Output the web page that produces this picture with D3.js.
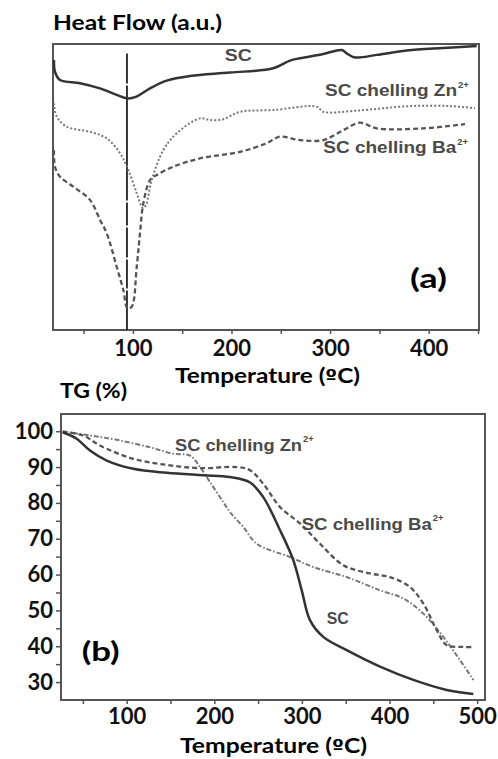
<!DOCTYPE html>
<html>
<head>
<meta charset="utf-8">
<script src="https://cdn.jsdelivr.net/npm/d3@7"></script>
<style>
  body { margin: 0; background: #fff; }
  svg text { font-family: Lato, "Open Sans", sans-serif; font-weight: bold; }
  .curveLabel { font-family: "Liberation Sans", Arial, sans-serif !important; fill: #4a4a4a; }
</style>
</head>
<body>
<div id="chart"></div>
<script>
// (a) DSC heat flow, arbitrary units, [temperature ºC, value]
const dscSC = [[20,94.4],[21,90.3],[26.1,87.4],[46.4,86.3],[66.7,84.5],[83.6,82.2],[94.4,81.0],[102.2,81.4],
  [117.4,84.5],[134.3,87.2],[158,88.8],[198.5,90.0],[242.4,91.5],[259.3,94.2],[269.5,95.0],[293.1,96.5],
  [311.8,97.9],[316.9,96.7],[325.3,95.3],[347.3,96.2],[377.7,97.7],[414.8,98.6],[448.7,99.3]]
const dscZn = [[20,79.3],[22.8,74.6],[32.9,71.1],[56.5,69.3],[73.5,67.0],[87,61.8],[95.4,55.9],[103.9,47.8],
  [109,43.1],[110.6,42.6],[113.3,43.7],[119.1,52.4],[130.9,62.9],[144.5,68.8],[168.1,74.0],[178.2,73.4],
  [191.7,73.7],[208.7,76.3],[242.4,76.9],[286.4,78.1],[293.1,76.3],[327,76.7],[381.1,78.3],[421.6,78.3],[447,77.5]]
const dscBa = [[20,62.9],[21,57.1],[26.1,53.6],[39.6,50.1],[56.5,45.5],[66.7,38.5],[73.5,33.8],[83.6,22.1],
  [90.3,14.0],[94.4,7.6],[98.8,8.1],[103.9,22.1],[107.2,33.8],[110.6,44.3],[117.4,52.4],[124.2,54.2],
  [141,57.1],[168.1,60.0],[208.7,62.3],[235.7,65.3],[249.2,67.6],[269.5,66.4],[293.1,66.4],[313.4,69.9],
  [330.3,72.5],[347.3,70.5],[394.6,70.5],[436.8,72.0]]
const dscMarker = [[94,96.7],[94,0]]

// (b) TG mass, %, [temperature ºC, value]
const tgSC = [[26.9,99.7],[42.9,97.9],[58.1,94.6],[77.2,91.8],[107.5,89.5],[145.7,88.4],[187.4,87.7],[217.9,87.2],
  [240.8,85.7],[255.9,81.6],[275.2,72.3],[290.2,64.0],[299.8,55.6],[309.2,47.3],[324.4,42.6],[351.1,38.9],
  [389.2,34.3],[427.2,30.6],[465.3,27.8],[495.7,26.7]]
const tgZn = [[26.9,99.9],[58.1,98.8],[88.6,97.6],[126.6,95.5],[153.2,93.7],[172.3,93.2],[183.7,90.0],[195.1,85.8],
  [210.3,80.2],[217.9,77.4],[233.1,73.3],[248.4,68.6],[286.4,64.9],[313,62.1],[351.1,59.3],[389.2,55.6],
  [415.8,53.3],[438.6,49.1],[461.4,42.6],[480.5,36.1],[495.7,30.6]]
const tgBa = [[26.9,99.9],[50.5,98.8],[69.5,96.0],[107.5,92.3],[145.7,90.6],[183.7,89.7],[225.6,90.0],[240.8,89.1],
  [255.9,85.3],[275.2,78.8],[298.1,74.2],[320.7,68.6],[347.3,62.6],[377.7,60.3],[400.6,59.3],[423.4,56.5],
  [438.6,51.9],[453.9,44.5],[465.3,40.3],[484.2,39.8],[495.7,39.8]]

const ticksA = [50, 100, 150, 200, 250, 300, 350, 400, 450]
const ticksBx = [50, 100, 150, 200, 250, 300, 350, 400, 450, 500]
const ticksBy = [30, 35, 40, 45, 50, 55, 60, 65, 70, 75, 80, 85, 90, 95, 100]

const width = 498, height = 759
var svg = d3.select("#chart").append("svg").attr("width", width).attr("height", height)

var xA = d3.scaleLinear().domain([19, 451]).range([53, 479])
var yA = d3.scaleLinear().domain([0, 100]).range([330, 44])
var xB = d3.scaleLinear().domain([25, 509]).range([61, 485])
var yB = d3.scaleLinear().domain([25, 104.8]).range([700, 414])

function fit(sel, w) {
    sel.attr("textLength", w).attr("lengthAdjust", "spacingAndGlyphs")
    return sel
}

function drawLine(x, y, data, color, w, dash) {
    var line = d3.line().x(d => x(d[0])).y(d => y(d[1])).curve(d3.curveCatmullRom.alpha(0.5))
    svg.append("path")
        .datum(data)
        .attr("d", line)
        .style("fill", "none")
        .style("stroke", color)
        .style("stroke-width", w)
        .style("stroke-dasharray", dash)
}

function ionLabel(x, y, main, sup, w, size) {
    fit(svg.append("text").attr("class", "curveLabel")
        .attr("x", x).attr("y", y)
        .style("font-size", size + "px")
        .text(main), w)
    svg.append("text").attr("class", "curveLabel")
        .attr("x", x + w + 1).attr("y", y - size * 0.5)
        .style("font-size", (size * 0.55) + "px")
        .text(sup)
}

// axis title with the ordinal sign taken from a font that underlines it
function tempTitle(x, y, w) {
    var t = svg.append("text").attr("x", x).attr("y", y).style("font-size", "21px")
    t.append("tspan").text("Temperature (")
    t.append("tspan").style("font-family", "'DejaVu Sans', sans-serif").style("font-size", "18px").text("º")
    t.append("tspan").text("C)")
    fit(t, w)
}

function styleAxis(g) {
    g.select(".domain").remove()
    g.selectAll(".tick line").style("stroke", "#555").style("stroke-width", 1.5)
    g.selectAll(".tick text").style("font-size", "22px").style("fill", "#111")
        .style("font-family", "Lato, sans-serif").style("font-weight", "bold")
}

// ---------- panel (a) ----------
svg.append("g")
    .attr("transform", "translate(0," + yA(0) + ")")
    .call(d3.axisBottom(xA).tickValues(ticksA).tickSize(4).tickPadding(6)
        .tickFormat(d => d % 100 === 0 ? d : ""))
    .call(styleAxis)

svg.append("rect")
    .attr("x", xA.range()[0]).attr("y", yA.range()[1])
    .attr("width", xA.range()[1] - xA.range()[0])
    .attr("height", yA.range()[0] - yA.range()[1])
    .style("fill", "none").style("stroke", "#555").style("stroke-width", 2)

drawLine(xA, yA, dscMarker, "#222", 1.8, "30,2,115,2,23,2,30,2,29,2,80")
drawLine(xA, yA, dscBa, "#555", 2.3, "5,3")
drawLine(xA, yA, dscZn, "#777", 2, "2,2")
drawLine(xA, yA, dscSC, "#333", 2.5, null)

fit(svg.append("text").attr("class", "curveLabel")
    .attr("x", xA(206.9)).attr("y", yA(94.2))
    .attr("text-anchor", "middle")
    .style("font-size", "17px").text("SC"), 27)
ionLabel(xA(294.9), yA(81.8), "SC chelling Zn", "2+", 132, 17)
ionLabel(xA(293.1), yA(61.8), "SC chelling Ba", "2+", 133, 17)

fit(svg.append("text").attr("x", xA(381)).attr("y", yA(14.7))
    .style("font-size", "26px").text("(a)"), 37)

fit(svg.append("text").attr("x", 53).attr("y", 30)
    .style("font-size", "21px").text("Heat Flow (a.u.)"), 169)

tempTitle(175, 383, 185)

// ---------- panel (b) ----------
svg.append("g")
    .attr("transform", "translate(0," + yB.range()[0] + ")")
    .call(d3.axisBottom(xB).tickValues(ticksBx).tickSize(4).tickPadding(4)
        .tickFormat(d => d % 100 === 0 ? d : ""))
    .call(styleAxis)

svg.append("g")
    .attr("transform", "translate(" + xB.range()[0] + ",0)")
    .call(d3.axisLeft(yB).tickValues(ticksBy).tickSize(5).tickPadding(3)
        .tickFormat(d => d % 10 === 0 ? d : ""))
    .call(styleAxis)

svg.append("rect")
    .attr("x", xB.range()[0]).attr("y", yB.range()[1])
    .attr("width", xB.range()[1] - xB.range()[0])
    .attr("height", yB.range()[0] - yB.range()[1])
    .style("fill", "none").style("stroke", "#555").style("stroke-width", 2)

drawLine(xB, yB, tgZn, "#777", 2, "5,2,1.5,2")
drawLine(xB, yB, tgBa, "#555", 2.3, "5,3")
drawLine(xB, yB, tgSC, "#333", 2.5, null)

ionLabel(xB(155.1), yB(94.5), "SC chelling Zn", "2+", 127, 17)
ionLabel(xB(299.8), yB(72.5), "SC chelling Ba", "2+", 130, 17)
fit(svg.append("text").attr("class", "curveLabel")
    .attr("x", xB(328.3)).attr("y", yB(46.3))
    .style("font-size", "16px").text("SC"), 22)

fit(svg.append("text").attr("x", xB(48.6)).attr("y", yB(35.9))
    .style("font-size", "26px").text("(b)"), 38)

fit(svg.append("text").attr("x", 60).attr("y", 398)
    .style("font-size", "20px").text("TG (%)"), 67)

tempTitle(180, 753, 187)
</script>
</body>
</html>
